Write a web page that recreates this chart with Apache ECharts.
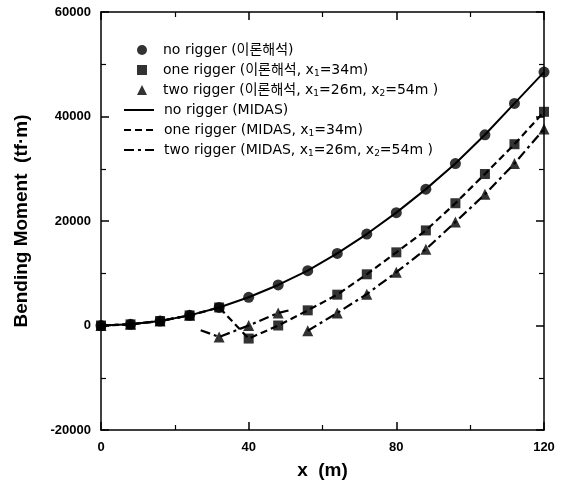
<!DOCTYPE html>
<html><head><meta charset="utf-8">
<script src="https://cdn.jsdelivr.net/npm/echarts@6/dist/echarts.min.js"></script>
<style>html,body{margin:0;padding:0;background:#fff}#c{width:564px;height:481px}</style>
</head><body><div id="c"></div>
<script>
// ---- data ----
var xPts = [0, 8, 16, 24, 32, 40, 48, 56, 64, 72, 80, 88, 96, 104, 112, 120];
var noRigger  = [0, 220, 860, 1940, 3450, 5400, 7760, 10500, 13800, 17500, 21600, 26100, 31000, 36500, 42500, 48500];
var oneRigger = [0, 220, 860, 1940, 3450, -2500, 0, 2900, 5900, 9800, 14000, 18200, 23400, 29000, 34700, 40900];
var twoRigger = [0, 220, 860, 1940, -2200, 0, 2400, -1000, 2400, 6000, 10200, 14600, 19800, 25100, 31000, 37600];
// MIDAS curves (null = break in the drawn line)
var midasNoX  = xPts;
var midasNo   = noRigger;
var midasOneX = xPts;
var midasOne  = oneRigger;
var midasTwoX = [0, 8, 16, 24, 26, 27, 32, 40, 48, 51, 54, 56, 64, 72, 80, 88, 96, 104, 112, 120];
var midasTwo  = [0, 220, 860, 1940, null, -900, -2200, 0, 2400, 2900, null, -1000, 2400, 6000, 10200, 14600, 19800, 25100, 31000, 37600];
var names = [
  'no rigger (이론해석)',
  'one rigger (이론해석, x1=34m)',
  'two rigger (이론해석, x1=26m, x2=54m )',
  'no rigger (MIDAS)',
  'one rigger (MIDAS, x1=34m)',
  'two rigger (MIDAS, x1=26m, x2=54m )'
];
var yTicks = [-20000, 0, 20000, 40000, 60000];
var xTicks = [0, 40, 80, 120];

function pairs(xs, ys) { return xs.map(function (x, i) { return [x, ys[i] === null ? '-' : ys[i]]; }); }

var FONT = 'Liberation Sans, Arial, Noto Sans CJK KR, sans-serif';
var LFONT = 'DejaVu Sans, Noto Sans CJK KR, sans-serif';
var chart = echarts.init(document.getElementById('c'), null, { renderer: 'canvas' });

var tickCommon = { show: true, inside: true, length: 8, lineStyle: { color: '#000', width: 1.5 } };
var minorCommon = { show: true, splitNumber: 2, length: 5, lineStyle: { color: '#000', width: 1.2 } };
var lineCommon = { show: true, onZero: false, lineStyle: { color: '#000', width: 1.5 } };

function xAx(pos, showLabel, name) {
  return {
    type: 'value', position: pos, min: xTicks[0], max: xTicks[xTicks.length - 1], interval: 40,
    axisLine: lineCommon, axisTick: tickCommon, minorTick: minorCommon,
    splitLine: { show: false },
    axisLabel: { show: showLabel, margin: 11, color: '#000', fontWeight: 'bold', fontSize: 13, fontFamily: FONT },
    name: name, nameLocation: 'middle', nameGap: 31,
    nameTextStyle: { color: '#000', fontWeight: 'bold', fontSize: 19, fontFamily: FONT }
  };
}
function yAx(pos, showLabel, name) {
  return {
    type: 'value', position: pos, min: yTicks[0], max: yTicks[yTicks.length - 1], interval: 20000,
    axisLine: lineCommon, axisTick: tickCommon, minorTick: minorCommon,
    splitLine: { show: false },
    axisLabel: { show: showLabel, margin: 10, color: '#000', fontWeight: 'bold', fontSize: 13, fontFamily: FONT,
      formatter: function (v) { return String(v); } },
    name: name, nameLocation: 'middle', nameGap: 70,
    nameTextStyle: { color: '#000', fontWeight: 'bold', fontSize: 19, fontFamily: FONT }
  };
}

var legendText = {
  color: '#000', fontSize: 14, fontFamily: LFONT, lineHeight: 16,
  rich: { sub: { fontSize: 9, verticalAlign: 'bottom', lineHeight: 16, padding: [6, 0, 0, 0], fontFamily: LFONT } }
};
function fmt(n) { return n.replace(/x([12])=/g, 'x{sub|$1}='); }

var option = {
  backgroundColor: '#fff',
  animation: false,
  grid: { left: 101, right: 20, top: 12, bottom: 51, containLabel: false, outerBoundsMode: 'none' },
  xAxis: [xAx('bottom', true, 'x  (m)'), xAx('top', false, '')],
  yAxis: [yAx('left', true, 'Bending Moment  (tf·m)'), yAx('right', false, '')],
  legend: [
    { orient: 'vertical', left: 137, top: 42, padding: 0, itemGap: 4, itemWidth: 10, itemHeight: 10,
      data: names.slice(0, 3), selectedMode: false,
      textStyle: Object.assign({}, legendText, { padding: [0, 0, 0, 11] }), formatter: fmt },
    { orient: 'vertical', left: 123, top: 102, padding: 0, itemGap: 4, itemWidth: 30, itemHeight: 10,
      data: names.slice(3).map(function (n) { return { name: n, itemStyle: { opacity: 0 } }; }),
      selectedMode: false,
      textStyle: Object.assign({}, legendText, { padding: [0, 0, 0, 5] }), formatter: fmt }
  ],
  series: [
    { name: names[3], type: 'line', data: pairs(midasNoX, midasNo), symbol: 'none', z: 2, connectNulls: false,
      lineStyle: { color: '#000', width: 2, type: 'solid' }, itemStyle: { color: '#000' } },
    { name: names[4], type: 'line', data: pairs(midasOneX, midasOne), symbol: 'none', z: 2, connectNulls: false,
      lineStyle: { color: '#000', width: 2.2, type: [7, 4] }, itemStyle: { color: '#000' } },
    { name: names[5], type: 'line', data: pairs(midasTwoX, midasTwo), symbol: 'none', z: 2, connectNulls: false,
      lineStyle: { color: '#000', width: 2.2, type: [10, 4, 3, 4] }, itemStyle: { color: '#000' } },
    { name: names[0], type: 'scatter', data: pairs(xPts, noRigger), symbol: 'circle', symbolSize: 11, z: 3,
      itemStyle: { color: '#000' } },
    { name: names[1], type: 'scatter', data: pairs(xPts, oneRigger), symbol: 'rect', symbolSize: 10, z: 4,
      itemStyle: { color: '#000' } },
    { name: names[2], type: 'scatter', data: pairs(xPts, twoRigger), symbol: 'triangle', symbolSize: 11, z: 3,
      itemStyle: { color: '#000' } }
  ]
};
chart.setOption(option);
</script></body></html>
